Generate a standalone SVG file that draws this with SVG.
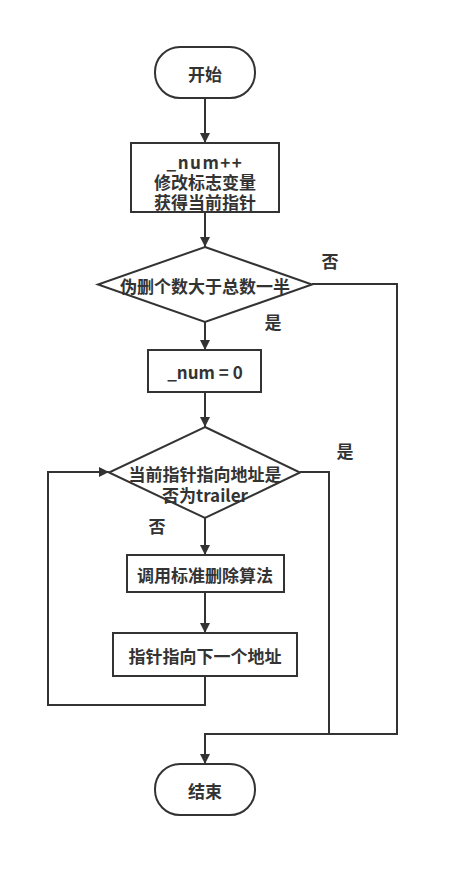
<svg xmlns="http://www.w3.org/2000/svg" width="459" height="877" viewBox="0 0 459 877">
<style>
.s{fill:#fff;stroke:#333;stroke-width:2}
.t{font-family:"Noto Sans CJK SC","Open Sans",sans-serif;font-weight:bold;font-size:17px;fill:#333;text-anchor:middle;dominant-baseline:central}
.c{fill:none;stroke:#333;stroke-width:2}
</style>
<defs>
<marker id="a" viewBox="0 0 10 10" refX="10" refY="5" markerWidth="10" markerHeight="10" markerUnits="userSpaceOnUse" orient="auto">
<path d="M0,0 L10,5 L0,10 z" fill="#333"/>
</marker>
</defs>
<rect width="459" height="877" fill="#fff"/>
<g id="connectors">
<path class="c" d="M205,98 V143" marker-end="url(#a)"/>
<path class="c" d="M205,212 V247" marker-end="url(#a)"/>
<path class="c" d="M205,322 V350" marker-end="url(#a)"/>
<path class="c" d="M205,392 V427" marker-end="url(#a)"/>
<path class="c" d="M205,518 V555" marker-end="url(#a)"/>
<path class="c" d="M205,592 V633" marker-end="url(#a)"/>
<path class="c" d="M205,676 V705 H48 V472 H109" marker-end="url(#a)"/>
<path class="c" d="M300,472 H329 V734"/>
<path class="c" d="M312,284 H397 V734 H205 V764" marker-end="url(#a)"/>
<text class="t" x="330" y="260">否</text>
<text class="t" x="273" y="321">是</text>
<text class="t" x="345" y="450">是</text>
<text class="t" x="157" y="525">否</text>
</g>
<g id="start">
<rect class="s" x="155" y="47" width="100" height="51" rx="25"/>
<text class="t" x="205" y="73">开始</text>
</g>
<g id="init">
<rect class="s" x="131" y="143" width="148" height="69"/>
<text class="t" x="205" y="161" letter-spacing="1.5">_num++</text>
<text class="t" x="205" y="181">修改标志变量</text>
<text class="t" x="205" y="201">获得当前指针</text>
</g>
<g id="check1">
<path class="s" d="M205,247 L312,284.5 L205,322 L98,284.5 Z"/>
<text class="t" x="205" y="285">伪删个数大于总数一半</text>
</g>
<g id="reset">
<rect class="s" x="148" y="350" width="113" height="42"/>
<text class="t" x="205" y="371">_num = 0</text>
</g>
<g id="check2">
<path class="s" d="M205,427 L300,472.5 L205,518 L109,472.5 Z"/>
<text class="t" x="205" y="473">当前指针指向地址是</text>
<text class="t" x="205" y="494">否为trailer</text>
</g>
<g id="delete">
<rect class="s" x="127" y="555" width="157" height="37"/>
<text class="t" x="205" y="574">调用标准删除算法</text>
</g>
<g id="next">
<rect class="s" x="113" y="633" width="184" height="43"/>
<text class="t" x="205" y="655">指针指向下一个地址</text>
</g>
<g id="end">
<rect class="s" x="155" y="764" width="100" height="51" rx="25"/>
<text class="t" x="205" y="790">结束</text>
</g>
</svg>
